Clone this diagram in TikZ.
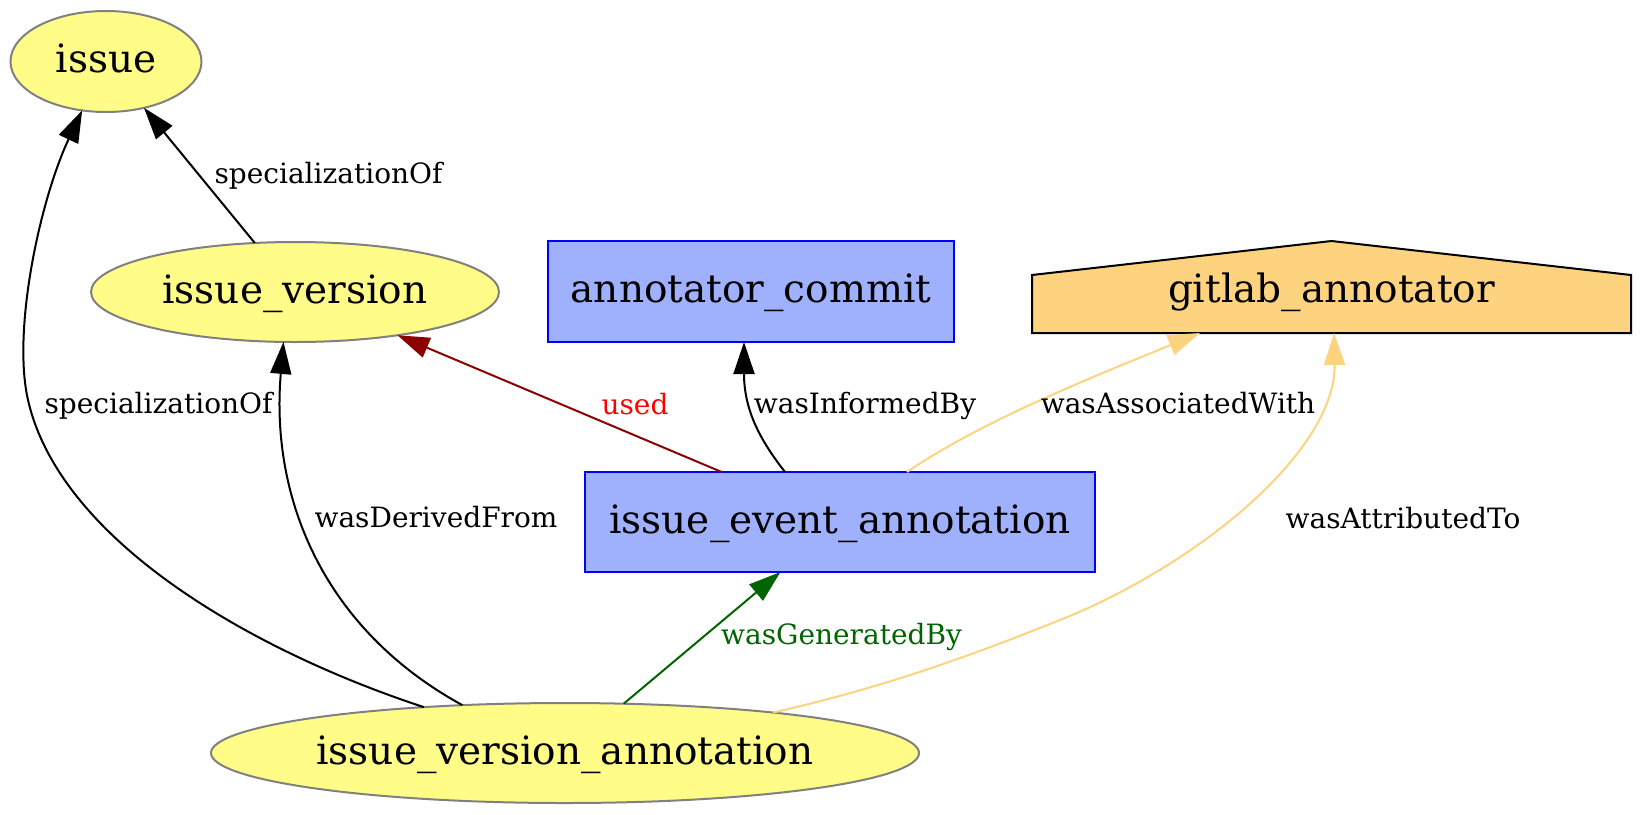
\documentclass[tikz,border=0pt]{standalone}
\usepackage{fontspec}
\setmainfont{DejaVu Serif}
\usetikzlibrary{arrows.meta,backgrounds,shapes.geometric}
\definecolor{entfill}{HTML}{FFFC87}
\definecolor{entdraw}{HTML}{808080}
\definecolor{actfill}{HTML}{9FB1FC}
\definecolor{actdraw}{HTML}{0000FF}
\definecolor{agtfill}{HTML}{FED37F}
\definecolor{usedcol}{HTML}{8B0000}
\definecolor{gencol}{HTML}{006400}
\begin{document}
\begin{tikzpicture}[x=0.5pt,y=-0.5pt,
  base/.style={inner sep=0pt, outer sep=0pt, line width=1pt, font=\fontsize{19.5}{21}\selectfont, text height=14.5pt, text depth=3.5pt},
  ent/.style={base, ellipse, draw=entdraw, fill=entfill},
  act/.style={base, rectangle, draw=actdraw, fill=actfill},
  agt/.style={base, rectangle, draw=none},
  ed/.style={line width=1pt, -{Triangle[length=16pt,width=10.5pt]}},
  lbl/.style={anchor=base, inner sep=0pt, font=\fontsize{14}{16}\selectfont}]
\useasboundingbox (0,0) rectangle (1642,814);

\node[ent, minimum width=95.5pt, minimum height=50.5pt] (issue) at (106,61.5) {issue};
\node[ent, minimum width=204pt, minimum height=50pt] (iv) at (295,292) {issue\_version};
\node[act, minimum width=203pt, minimum height=50.5pt] (ac) at (751,291.5) {annotator\_commit};
\node[agt, minimum width=299.5pt, minimum height=50.5pt] (ga) at (1331.5,291.5) {gitlab\_annotator};
\node[act, minimum width=255pt, minimum height=50pt] (iea) at (840,522) {issue\_event\_annotation};
\node[ent, minimum width=354pt, minimum height=50pt] (iva) at (565,753) {issue\_version\_annotation};

\begin{scope}[on background layer]
\draw[line width=1pt, fill=agtfill] ([yshift=4.5pt]ga.south west) -- ([yshift=4.5pt]ga.south east) -- ([yshift=-17pt]ga.north east) -- (ga.north) -- ([yshift=-17pt]ga.north west) -- cycle;
\end{scope}

% edges
\draw[ed] (iv) -- (issue);
\draw[ed] (iva.162) .. controls (250,650) and (60,540) .. (28,400) .. controls (12,330) and (40,200) .. (issue.-116);
\draw[ed] (iva.155) .. controls (325,630) and (270,500) .. (iv.-103);
\draw[ed, color=usedcol] (iea) -- (iv);
\draw[ed] ([xshift=-27.5pt]iea.north) .. controls (760,440) and (744,410) .. ([xshift=-3.5pt]ac.south);
\draw[ed, color=agtfill] ([xshift=33.5pt]iea.north) .. controls (980,422) and (1090,378) .. ([xshift=-65.75pt,yshift=4.5pt]ga.south);
\draw[ed, color=agtfill] (iva.11) .. controls (880,688) and (960,660) .. (1060,620) .. controls (1200,564) and (1336,450) .. ([xshift=1.25pt,yshift=4.5pt]ga.south);
\draw[ed, color=gencol] (iva) -- (iea);

% labels
\node[lbl] (l1) at (328.5,183) {specializationOf};
\node[lbl] (l2) at (158.5,413) {specializationOf};
\node[lbl] (l3) at (436,527) {wasDerivedFrom};
\node[lbl, text=red] (l4) at (635,414) {used};
\node[lbl] (l5) at (865,413) {wasInformedBy};
\node[lbl] (l6) at (1178,413) {wasAssociatedWith};
\node[lbl] (l7) at (1403,528) {wasAttributedTo};
\node[lbl, text=gencol] (l8) at (841.5,644) {wasGeneratedBy};
\end{tikzpicture}
\end{document}
